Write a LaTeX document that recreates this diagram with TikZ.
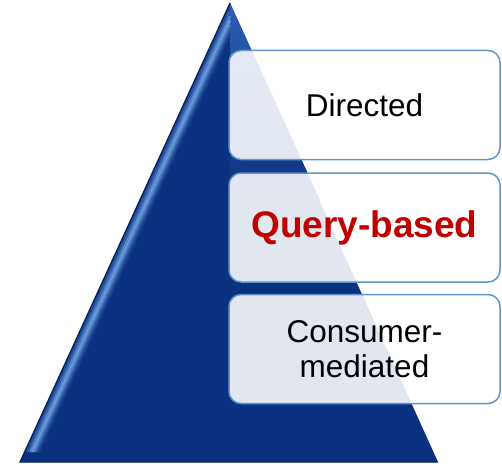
\documentclass[tikz,border=0pt]{standalone}
\usepackage{fontspec}
\setmainfont{Liberation Sans}
\usetikzlibrary{positioning}

\definecolor{pyr_navy}{RGB}{11,50,128}
\definecolor{pyr_dark}{RGB}{6,32,90}
\definecolor{pyr_mid}{RGB}{45,95,180}
\definecolor{pyr_light}{RGB}{110,160,225}
\definecolor{box_edge}{RGB}{95,148,205}
\definecolor{query_red}{RGB}{192,0,0}

\begin{document}
\begin{tikzpicture}[x=1pt, y=-1pt, node distance=12pt,
    level_box/.style={draw=box_edge, line width=1.5pt, fill=white, fill opacity=0.88, text opacity=1,
        rounded corners=12pt, minimum width=271pt, minimum height=109pt, inner sep=0pt,
        align=center, font=\fontsize{31.5}{35}\selectfont}]
    \useasboundingbox (0,0) rectangle (502,465);

    % pyramid
    \coordinate (apex) at (230,3);
    \coordinate (base_l) at (20,462);
    \coordinate (base_r) at (438,462);
    \fill[pyr_navy] (apex) -- (base_r) -- (base_l) -- cycle;
    \shade[top color=pyr_mid, bottom color=pyr_navy] (apex) -- (320,200) -- (230,200) -- cycle;
    \foreach \h/\c in {2/20, 4/45, 6/75, 8/95, 10/70, 12/40, 14/15} {
        \draw[pyr_light!\c!pyr_navy, line width=2.2pt] (230,3+2.186*\h) -- (24.6+\h,452);
    }
    \draw[pyr_dark, line width=1.2pt] (apex) -- (base_l) -- (base_r);

    % levels
    \node (directed) [level_box] at (364.5,105) {Directed};
    \node (query) [level_box, below=12pt of directed] {\bfseries\fontsize{37}{40}\selectfont\color{query_red}Query-based};
    \node (consumer) [level_box, below=11pt of query] {Consumer-\\mediated};
\end{tikzpicture}
\end{document}
